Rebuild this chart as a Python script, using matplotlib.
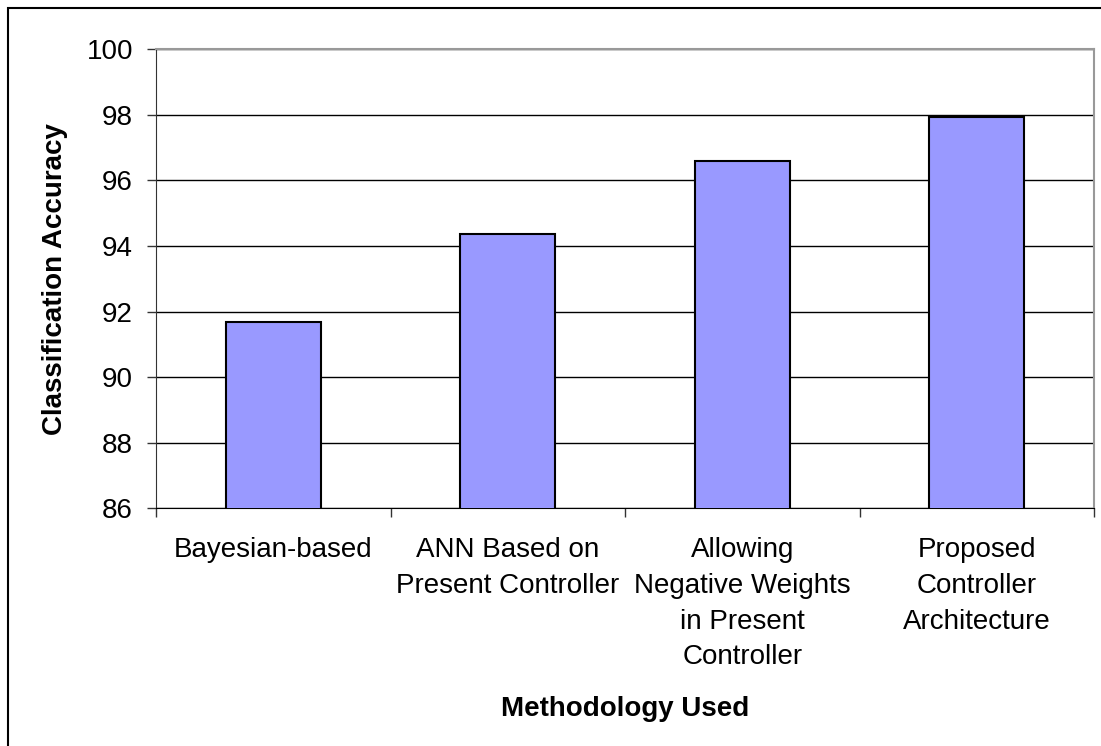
import numpy as np
import matplotlib
matplotlib.use("Agg")
from matplotlib import pyplot as plt
from matplotlib.patches import Rectangle

plt.rcParams['font.family'] = ['Liberation Sans', 'DejaVu Sans']

methods = ["Bayesian-based",
           "ANN Based on\nPresent Controller",
           "Allowing\nNegative Weights\nin Present\nController",
           "Proposed\nController\nArchitecture"]
accuracy = [91.67, 94.38, 96.59, 97.93]
yticks = [86, 88, 90, 92, 94, 96, 98, 100]

W, H = 1101, 746
fig = plt.figure(figsize=(W / 100, H / 100), dpi=100)
# plot area in pixels: left 156, right 1094, top 49, bottom 508
ax = fig.add_axes([156 / W, 1 - 508.3 / H, (1094 - 156) / W, (508.3 - 49.3) / H])

x = np.arange(len(methods))
ax.bar(x, accuracy, width=0.404, color='#9999ff', edgecolor='black',
       linewidth=1.5, zorder=3)

ax.set_xlim(-0.5, len(methods) - 0.5)
ax.set_ylim(86, 100)
ax.set_yticks(yticks)
ax.yaxis.grid(True, color='black', linewidth=1.0, zorder=0)

# category separators as major ticks, names on minor ticks
ax.set_xticks(np.arange(-0.5, len(methods), 1.0))
ax.set_xticklabels([])
ax.set_xticks(x, minor=True)
ax.set_xticklabels(methods, minor=True, fontsize=20, linespacing=1.48)
ax.tick_params(axis='x', which='major', direction='out', length=6.5,
               width=1, color='#333333')
ax.tick_params(axis='x', which='minor', length=0, pad=21)
ax.tick_params(axis='y', direction='out', length=6.5, width=1,
               color='#333333', labelsize=20, pad=10)

for side in ['top', 'right']:
    ax.spines[side].set_color('#999999')
    ax.spines[side].set_linewidth(1.5)
ax.spines['left'].set_color('#333333')
ax.spines['bottom'].set_color('black')

ax.set_ylabel("Classification Accuracy", fontsize=20, fontweight='bold')
ax.yaxis.set_label_coords((55 - 156) / 938, 0.5)
ax.yaxis.label.set_va('center')
ax.set_xlabel("Methodology Used", fontsize=20, fontweight='bold')
ax.xaxis.set_label_coords(0.5, (508.3 - 716) / 459)
ax.xaxis.label.set_va('baseline')

# outer chart border (cut off on right and bottom)
fig.patches.append(Rectangle((8 / W, -0.1), 1.2, 1 - 8 / H + 0.1,
                             transform=fig.transFigure, fill=False,
                             edgecolor='black', linewidth=1.5))

plt.savefig("out.png", dpi=100)
